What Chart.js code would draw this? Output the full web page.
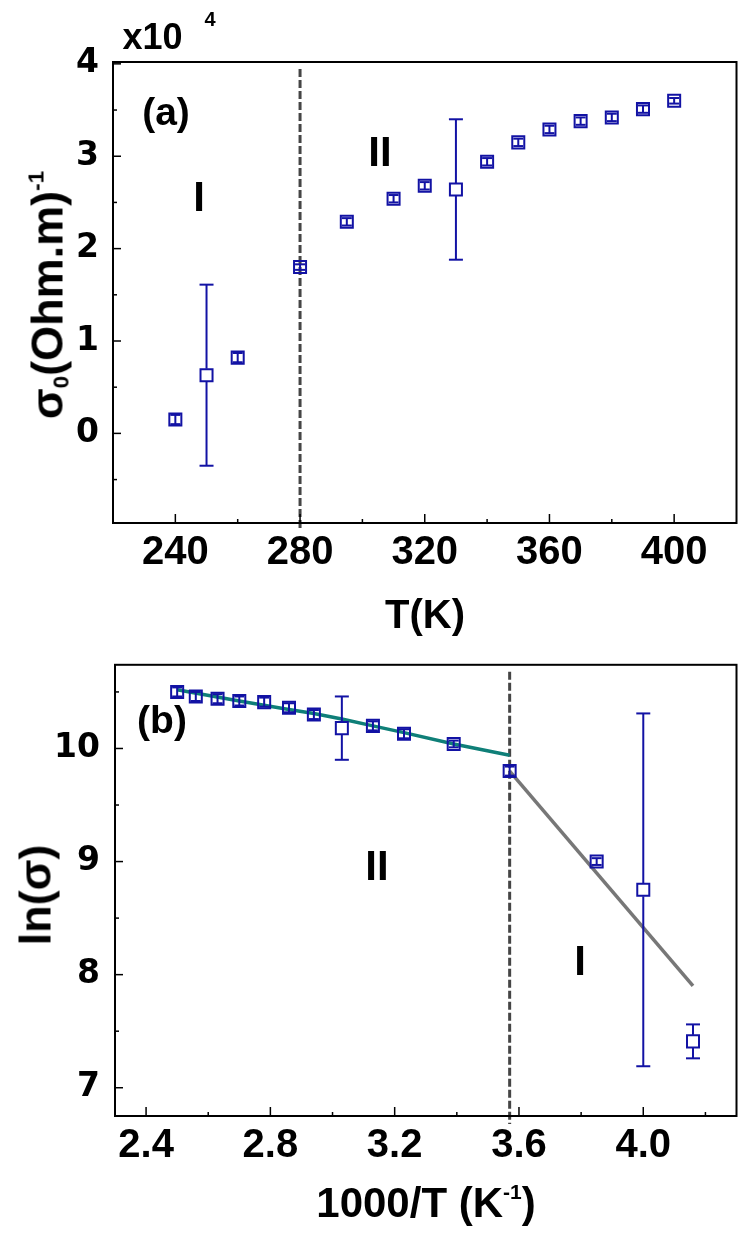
<!DOCTYPE html>
<html>
<head>
<meta charset="utf-8">
<script src="https://cdn.jsdelivr.net/npm/chart.js"></script>
<style>
  body { margin: 0; width: 747px; height: 1238px; background: #fff; position: relative; overflow: hidden;
         font-family: 'Liberation Sans', Arial, sans-serif; font-weight: bold; color: #000; }
  canvas { position: absolute; left: 0; }
  .t { position: absolute; white-space: nowrap; line-height: 1; transform: translate(-50%, -50%); }
  .rot { transform: translate(-50%, -50%) rotate(-90deg); }
  .sup { font-size: 0.5em; position: relative; top: -0.85em; }
  .sub { font-size: 0.5em; position: relative; top: 0.25em; }
</style>
</head>
<body>
<canvas id="chartA" width="747" height="640" style="top:0"></canvas>
<canvas id="chartB" width="747" height="608" style="top:630px"></canvas>

<div class="t" style="left:158px;top:37px;font-size:36px">x10<span style="font-size:20px;position:relative;top:-23px;left:22px">4</span></div>
<div class="t" style="left:166px;top:111px;font-size:39px">(a)</div>
<div class="t" style="left:199px;top:197px;font-size:42px">I</div>
<div class="t" style="left:380px;top:152px;font-size:42px">II</div>
<div class="t rot" style="left:47px;top:295px;font-size:45px">σ<span class="sub">0</span>(Ohm.m)<span class="sup">-1</span></div>
<div class="t" style="left:425px;top:614px;font-size:40px">T(K)</div>

<div class="t" style="left:162px;top:719px;font-size:39px">(b)</div>
<div class="t" style="left:377px;top:866px;font-size:42px">II</div>
<div class="t" style="left:580px;top:961px;font-size:42px">I</div>
<div class="t rot" style="left:35px;top:895px;font-size:45px">ln(σ)</div>
<div class="t" style="left:426px;top:1203px;font-size:42px">1000/T (K<span class="sup">-1</span>)</div>

<script>
  // panel (a): sigma0 (x10^4) vs temperature
  const tempK = [240, 250, 260, 280, 295, 310, 320, 330, 340, 350, 360, 370, 380, 390, 400];
  const sigma0 = [0.15, 0.63, 0.82, 1.80, 2.29, 2.54, 2.68, 2.64, 2.94, 3.15, 3.29, 3.38, 3.42, 3.51, 3.60];
  const sigma0Err = [0.05, 0.98, 0.05, 0.03, 0.04, 0.04, 0.04, 0.76, 0.04, 0.04, 0.04, 0.04, 0.04, 0.04, 0.03];
  const boundaryT = 280;

  // panel (b): ln(sigma) vs 1000/T
  const invT = [2.50, 2.56, 2.63, 2.70, 2.78, 2.86, 2.94, 3.03, 3.13, 3.23, 3.39, 3.57, 3.85, 4.00, 4.16];
  const lnSigma = [10.50, 10.46, 10.44, 10.42, 10.41, 10.36, 10.30, 10.18, 10.20, 10.13, 10.04, 9.80, 9.00, 8.75, 7.41];
  const lnSigmaErr = [0.04, 0.04, 0.04, 0.04, 0.04, 0.04, 0.04, 0.28, 0.04, 0.04, 0.03, 0.04, 0.03, 1.56, 0.15];
  const fitIIx = [2.50, 2.70, 2.85, 2.94, 3.03, 3.13, 3.23, 3.39, 3.57];
  const fitIIy = [10.52, 10.42, 10.35, 10.31, 10.26, 10.20, 10.14, 10.04, 9.94];
  const fitIx = [3.57, 4.16];
  const fitIy = [9.80, 7.90];
  const boundaryInvT = 3.57;

  // axis ticks
  const aXTicks = [240, 280, 320, 360, 400];
  const aXMinor = [260, 300, 340, 380];
  const aYTicks = [0, 1, 2, 3, 4];
  const aYMinor = [-0.5, 0.5, 1.5, 2.5, 3.5];
  const bXTicks = [2.4, 2.8, 3.2, 3.6, 4.0];
  const bXMinor = [2.6, 3.0, 3.4, 3.8, 4.2];
  const bYTicks = [7, 8, 9, 10];
  const bYMinor = [7.5, 8.5, 9.5, 10.5];

  const blue = '#1212a4';
  const xFont = { family: "'Liberation Sans', Arial, sans-serif", size: 40, weight: 'bold' };
  const yFont = { family: "'DejaVu Sans', sans-serif", size: 33, weight: 'bold' };

  function line(ctx, x1, y1, x2, y2) {
    ctx.beginPath(); ctx.moveTo(x1, y1); ctx.lineTo(x2, y2); ctx.stroke();
  }

  // box, inward ticks and dashed region boundary
  const framePlugin = {
    id: 'frame',
    beforeDatasetsDraw(chart, args, opts) {
      const { ctx, chartArea: a, scales: { x } } = chart;
      const px = x.getPixelForValue(opts.boundary);
      ctx.save();
      ctx.strokeStyle = '#454545';
      ctx.lineWidth = 3;
      ctx.setLineDash([8, 3]);
      line(ctx, px, a.top + 7, px, a.bottom + 8);
      ctx.restore();
    },
    afterDraw(chart, args, opts) {
      const { ctx, chartArea: a, scales: { x, y } } = chart;
      ctx.save();
      ctx.strokeStyle = '#000';
      ctx.lineWidth = 2;
      ctx.strokeRect(a.left, a.top, a.right - a.left, a.bottom - a.top);
      ctx.lineWidth = 1.5;
      x.ticks.forEach(t => { const p = x.getPixelForValue(t.value); line(ctx, p, a.bottom, p, a.bottom - 9); });
      opts.xMinor.forEach(v => { const p = x.getPixelForValue(v); line(ctx, p, a.bottom, p, a.bottom - 4); });
      y.ticks.forEach(t => { const p = y.getPixelForValue(t.value); line(ctx, a.left, p, a.left + 8, p); });
      opts.yMinor.forEach(v => { const p = y.getPixelForValue(v); line(ctx, a.left, p, a.left + 4, p); });
      ctx.restore();
    }
  };

  // vertical error bars with caps, leaving the square open
  const errorBarPlugin = {
    id: 'errorBars',
    afterDatasetsDraw(chart) {
      const { ctx, scales: { y } } = chart;
      chart.data.datasets.forEach((ds, i) => {
        if (!ds.errors) return;
        const meta = chart.getDatasetMeta(i);
        ctx.save();
        ctx.strokeStyle = ds.borderColor;
        ctx.lineWidth = 2;
        meta.data.forEach((pt, j) => {
          const v = ds.data[j].y, e = ds.errors[j];
          const top = y.getPixelForValue(v + e), bot = y.getPixelForValue(v - e);
          const half = 6.5;
          let cap = 7;
          if (pt.y - top > half) {
            line(ctx, pt.x, top, pt.x, pt.y - half);
            line(ctx, pt.x, pt.y + half, pt.x, bot);
          } else {
            cap = 5;
            line(ctx, pt.x, top, pt.x, bot);
          }
          line(ctx, pt.x - cap, top, pt.x + cap, top);
          line(ctx, pt.x - cap, bot, pt.x + cap, bot);
        });
        ctx.restore();
      });
    }
  };

  function pts(xs, ys) { return xs.map((v, i) => ({ x: v, y: ys[i] })); }

  function makeScales(o) {
    return {
      x: {
        type: 'linear', min: o.xmin, max: o.xmax,
        afterBuildTicks: s => { s.ticks = o.xTicks.map(v => ({ value: v })); },
        afterFit: s => { s.height = o.xHeight; },
        grid: { display: false, drawTicks: false },
        border: { display: false },
        ticks: { font: xFont, color: '#000', padding: 6, maxRotation: 0, autoSkip: false, callback: o.xFormat }
      },
      y: {
        type: 'linear', min: o.ymin, max: o.ymax,
        afterBuildTicks: s => { s.ticks = o.yTicks.map(v => ({ value: v })); },
        afterFit: s => { s.width = o.yWidth; },
        grid: { display: false, drawTicks: false },
        border: { display: false },
        ticks: { font: yFont, color: '#000', padding: o.yPad, autoSkip: false }
      }
    };
  }

  new Chart(document.getElementById('chartA'), {
    type: 'scatter',
    data: {
      datasets: [{
        data: pts(tempK, sigma0),
        errors: sigma0Err,
        pointStyle: 'rect', pointRadius: 8.5, borderWidth: 2,
        borderColor: blue, backgroundColor: 'rgba(0,0,0,0)'
      }]
    },
    options: {
      responsive: false, animation: false,
      layout: { padding: { left: 0, top: 62, right: 10, bottom: 0 } },
      scales: makeScales({ xmin: 220, xmax: 420, ymin: -0.97, ymax: 4.02, xTicks: aXTicks, yTicks: aYTicks,
                           xHeight: 117, yWidth: 113, yPad: 14, xFormat: v => v }),
      plugins: {
        legend: { display: false }, tooltip: { enabled: false },
        frame: { xMinor: aXMinor, yMinor: aYMinor, boundary: boundaryT }
      }
    },
    plugins: [framePlugin, errorBarPlugin]
  });

  new Chart(document.getElementById('chartB'), {
    type: 'scatter',
    data: {
      datasets: [{
        data: pts(invT, lnSigma),
        errors: lnSigmaErr,
        pointStyle: 'rect', pointRadius: 8.5, borderWidth: 2,
        borderColor: blue, backgroundColor: 'rgba(0,0,0,0)', order: 0
      }, {
        data: pts(fitIIx, fitIIy), showLine: true, pointRadius: 0,
        borderColor: '#0f7f78', borderWidth: 3.5, order: 1
      }, {
        data: pts(fitIx, fitIy), showLine: true, pointRadius: 0,
        borderColor: '#777777', borderWidth: 3.5, order: 1
      }]
    },
    options: {
      responsive: false, animation: false,
      layout: { padding: { left: 0, top: 27, right: 10, bottom: 0 } },
      scales: makeScales({ xmin: 2.3, xmax: 4.3, ymin: 6.75, ymax: 10.74, xTicks: bXTicks, yTicks: bYTicks,
                           xHeight: 122, yWidth: 115, yPad: 15, xFormat: v => v.toFixed(1) }),
      plugins: {
        legend: { display: false }, tooltip: { enabled: false },
        frame: { xMinor: bXMinor, yMinor: bYMinor, boundary: boundaryInvT }
      }
    },
    plugins: [framePlugin, errorBarPlugin]
  });
</script>
</body>
</html>
